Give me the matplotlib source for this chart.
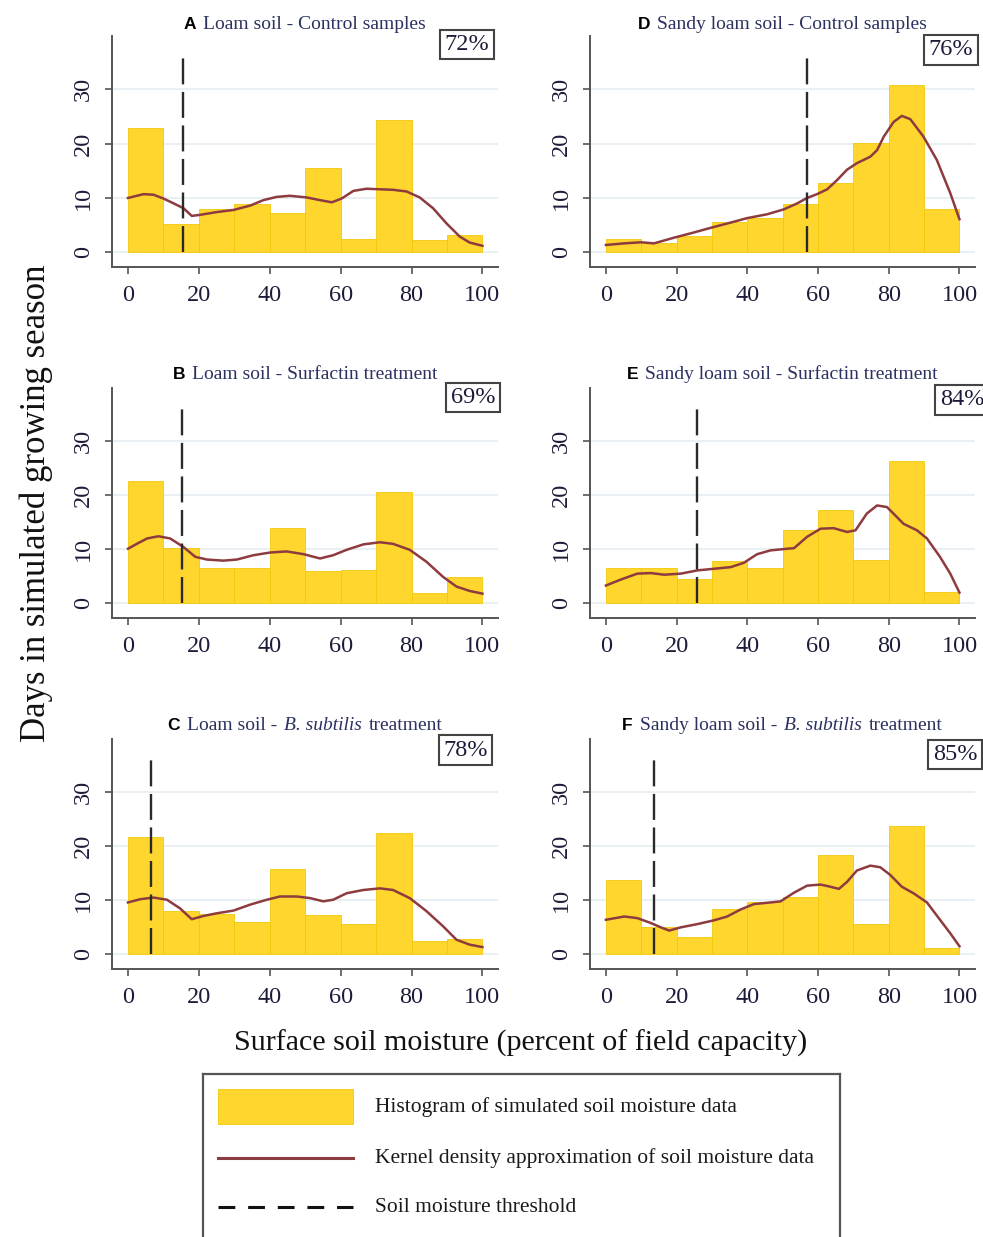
import numpy as np
import matplotlib.pyplot as plt
from matplotlib.patches import Rectangle

# histogram bins (percent of field capacity) and day counts per bin
bin_left = [0, 10, 20, 30, 40, 50, 60, 70, 80, 90]

hist_loam_ctrl = [22.9, 5.2, 7.9, 8.9, 7.2, 15.6, 2.5, 24.3, 2.2, 3.2]
hist_loam_surf = [22.6, 10.2, 6.6, 6.6, 14.0, 5.9, 6.1, 20.5, 1.9, 4.8]
hist_loam_bsub = [21.7, 8.0, 7.5, 5.9, 15.8, 7.2, 5.7, 22.4, 2.5, 2.8]
hist_sandy_ctrl = [2.5, 1.7, 3.0, 5.5, 6.4, 8.9, 12.8, 20.2, 30.7, 8.0]
hist_sandy_surf = [6.6, 6.6, 4.5, 7.8, 6.6, 13.6, 17.2, 8.1, 26.3, 2.1]
hist_sandy_bsub = [13.7, 5.0, 3.3, 8.3, 9.6, 10.6, 18.3, 5.7, 23.8, 1.2]

# kernel density curves (scaled to days)
kde_loam_ctrl_x = [0, 4.4, 7.2, 10, 12.9, 15.7, 18, 20.4, 25, 29.8, 34.5, 38.2, 42, 45.7, 50.4,
                   54.2, 57.5, 60.3, 63.6, 67.3, 71.1, 74.8, 78.6, 82.3, 86.1, 89.9, 93.6, 96.4, 100]
kde_loam_ctrl_y = [10.0, 10.7, 10.6, 9.9, 9.0, 8.1, 6.7, 6.9, 7.4, 7.8, 8.6, 9.6, 10.2, 10.4, 10.1,
                   9.6, 9.2, 9.9, 11.3, 11.7, 11.6, 11.5, 11.2, 10.1, 8.1, 5.3, 2.9, 1.8, 1.2]

kde_loam_surf_x = [0, 2.5, 5.4, 8.6, 11.9, 15.7, 19, 22.3, 26.9, 30.7, 35.4, 40.1, 44.8, 49.5,
                   54.2, 57.9, 61.7, 66.4, 71.1, 74.8, 79.5, 84.2, 88.9, 92.7, 96.4, 100]
kde_loam_surf_y = [10.1, 11.0, 12.0, 12.4, 12.0, 10.4, 8.6, 8.1, 7.9, 8.1, 8.9, 9.4, 9.6, 9.1,
                   8.3, 8.9, 9.9, 10.9, 11.3, 11.0, 9.9, 7.7, 4.9, 3.1, 2.3, 1.8]

kde_loam_bsub_x = [0, 3.5, 7.2, 11, 14.7, 18, 21.3, 25.1, 29.8, 34.5, 39.2, 42.9, 47.6, 51.4,
                   55.1, 57.9, 61.7, 66.4, 71.1, 74.8, 79.5, 84.2, 88.9, 92.7, 96.4, 100]
kde_loam_bsub_y = [9.6, 10.2, 10.5, 10.1, 8.5, 6.5, 7.1, 7.6, 8.1, 9.2, 10.1, 10.7, 10.7, 10.4,
                   9.8, 10.1, 11.3, 11.9, 12.2, 11.9, 10.4, 8.0, 5.2, 2.7, 1.8, 1.35]

kde_sandy_ctrl_x = [0, 5.2, 9.9, 13.6, 19.3, 24, 29.6, 34.3, 40, 45.6, 50.3, 54.1, 56.9, 59.7,
                    62.6, 65.4, 68.2, 71, 74.8, 76.7, 78.6, 81.4, 83.7, 86.1, 89.8, 93.6, 97.4, 100]
kde_sandy_ctrl_y = [1.35, 1.65, 1.85, 1.65, 2.7, 3.5, 4.5, 5.3, 6.3, 7.0, 7.9, 9.0, 10.0, 10.7,
                    11.6, 13.3, 15.2, 16.4, 17.6, 18.8, 21.3, 24.0, 25.1, 24.5, 21.3, 17.0, 10.9, 6.1]

kde_sandy_surf_x = [0, 4.2, 8.9, 12.7, 16.5, 21.2, 25.9, 30.6, 35.3, 39, 42.8, 46.6, 51.3, 53.2,
                    56.9, 60.7, 64.4, 68.2, 70.6, 73.8, 76.7, 79.5, 84.2, 88, 90.8, 94.5, 97.4, 100]
kde_sandy_surf_y = [3.3, 4.4, 5.5, 5.6, 5.3, 5.5, 6.1, 6.4, 6.7, 7.5, 9.1, 9.8, 10.1, 10.2,
                    12.3, 13.8, 13.9, 13.2, 13.5, 16.6, 18.1, 17.8, 14.7, 13.5, 12.0, 8.6, 5.5, 2.0]

kde_sandy_bsub_x = [0, 5.2, 8.9, 12.7, 15.5, 17.9, 21.2, 25.9, 30.6, 34.3, 38.1, 41.9, 46.6, 49.4,
                    53.2, 56.9, 60.7, 63.5, 65.9, 68.2, 71, 74.8, 77.6, 80.4, 83.7, 87, 90.8, 94.5, 97.4, 100]
kde_sandy_bsub_y = [6.4, 7.0, 6.7, 5.8, 5.0, 4.4, 5.0, 5.6, 6.3, 7.0, 8.3, 9.3, 9.6, 9.8,
                    11.4, 12.7, 12.9, 12.5, 12.1, 13.4, 15.5, 16.4, 16.1, 14.7, 12.5, 11.3, 9.6, 6.4, 3.9, 1.5]

# soil moisture thresholds and share of days above threshold
thresholds = [15.5, 15.3, 6.4, 56.9, 25.7, 13.5]
percents = ['72%', '69%', '78%', '76%', '84%', '85%']

letters = ['A', 'B', 'C', 'D', 'E', 'F']
soils = ['Loam soil -', 'Loam soil -', 'Loam soil -',
         'Sandy loam soil -', 'Sandy loam soil -', 'Sandy loam soil -']
treatments = ['Control samples', 'Surfactin treatment', 'B. subtilis treatment',
              'Control samples', 'Surfactin treatment', 'B. subtilis treatment']

hists = [hist_loam_ctrl, hist_loam_surf, hist_loam_bsub,
         hist_sandy_ctrl, hist_sandy_surf, hist_sandy_bsub]
kde_x = [kde_loam_ctrl_x, kde_loam_surf_x, kde_loam_bsub_x,
         kde_sandy_ctrl_x, kde_sandy_surf_x, kde_sandy_bsub_x]
kde_y = [kde_loam_ctrl_y, kde_loam_surf_y, kde_loam_bsub_y,
         kde_sandy_ctrl_y, kde_sandy_surf_y, kde_sandy_bsub_y]

GOLD = '#FFD62E'
KDE_COL = '#8E3B3F'
SPINE = '#555555'
NAVY = '#2B3160'
SERIF = 'Liberation Serif'

W, H = 983, 1237
fig = plt.figure(figsize=(W / 100, H / 100), dpi=100)

# panel boxes in pixels: left, right, top, bottom
cols = [(112, 498), (590, 975)]
rows = [(36, 267), (388, 618), (739, 969)]
title_base = [29, 379, 730]
box_pos = [(0.920, 0.963), (0.935, 0.959), (0.915, 0.952),
           (0.938, 0.940), (0.966, 0.948), (0.948, 0.933)]

renderer = fig.canvas.get_renderer()


def title_row(cx, y, parts, gap=6):
    texts = []
    for s, kw in parts:
        texts.append(fig.text(0, y, s, ha='left', va='baseline', **kw))
    widths = [t.get_window_extent(renderer).width for t in texts]
    x = cx - (sum(widths) + gap * (len(widths) - 1)) / 2
    for t, w in zip(texts, widths):
        t.set_x(x / W)
        x += w + gap


for i in range(6):
    c, r = divmod(i, 3)
    l, rt = cols[c]
    top, bot = rows[r]
    ax = fig.add_axes([l / W, 1 - bot / H, (rt - l) / W, (bot - top) / H])

    ax.bar(bin_left, hists[i], width=10, align='edge', color=GOLD,
           edgecolor='#F3C80A', linewidth=0.6, zorder=2)
    ax.plot(kde_x[i], kde_y[i], color=KDE_COL, lw=1.8, zorder=3)
    ax.vlines(thresholds[i], 0, 37, colors='#2a2a2a', lw=1.7,
              linestyles=(0, (11, 3.2)), zorder=4)

    ax.set_xlim(-4.5, 104.4)
    ax.set_ylim(-2.7, 39.8)
    ax.set_xticks([0, 20, 40, 60, 80, 100])
    ax.set_yticks([0, 10, 20, 30])
    ax.yaxis.grid(True, color='#E4EEF1', lw=1.2)
    ax.set_axisbelow(True)
    for s in ['top', 'right']:
        ax.spines[s].set_visible(False)
    for s in ['left', 'bottom']:
        ax.spines[s].set_color(SPINE)
        ax.spines[s].set_linewidth(1.4)
    ax.tick_params(direction='out', length=5, width=1.2, color=SPINE,
                   labelsize=17.5, labelcolor='#1c1c3a')
    ax.tick_params(axis='x', pad=8)
    ax.tick_params(axis='y', pad=8, labelrotation=90)
    for lab in ax.get_xticklabels() + ax.get_yticklabels():
        lab.set_family(SERIF)
    for lab in ax.get_yticklabels():
        lab.set_va('center')

    bx, by = box_pos[i]
    ax.text(bx, by, percents[i], transform=ax.transAxes, ha='center', va='center',
            fontsize=17.5, family=SERIF, color='#1c1c3a', clip_on=False, zorder=5,
            bbox=dict(boxstyle='square,pad=0.18', fc='white', ec='#444444', lw=1.5))

    # panel title: bold letter, then serif text with italic species name
    letter = (letters[i], dict(family='Liberation Sans', weight='bold', size=12.5, color='black'))
    rm = dict(family=SERIF, size=14, color=NAVY)
    it = dict(family=SERIF, size=14, color=NAVY, style='italic')
    if treatments[i].startswith('B. subtilis'):
        parts = [letter, (soils[i], rm), ('B. subtilis', it), ('treatment', rm)]
    else:
        parts = [letter, (soils[i] + ' ' + treatments[i], rm)]
    title_row((l + rt) / 2, 1 - title_base[r] / H, parts, gap=7)

fig.text(36 / W, 1 - 503 / H, 'Days in simulated growing season', rotation=90,
         ha='center', va='center', family=SERIF, fontsize=25, color='#111111')
fig.text(521 / W, 1 - 1043 / H, 'Surface soil moisture (percent of field capacity)',
         ha='center', va='center', family=SERIF, fontsize=21.6, color='#111111')

# legend box, open at the bottom edge
lx0, lx1, ly0 = 203, 840, 1074
lg = fig.add_axes([lx0 / W, 0, (lx1 - lx0) / W, (H - ly0) / H])
lg.set_xlim(0, lx1 - lx0)
lg.set_ylim(H - ly0, 0)
lg.set_xticks([])
lg.set_yticks([])
lg.spines['bottom'].set_visible(False)
for s in ['top', 'left', 'right']:
    lg.spines[s].set_color(SPINE)
    lg.spines[s].set_linewidth(1.6)
lg.add_patch(Rectangle((15, 15), 135, 35, facecolor=GOLD, edgecolor='#F3C80A', lw=0.6))
lg.plot([15, 150], [84, 84], color=KDE_COL, lw=2.2)
lg.plot([15, 150], [133, 133], color='#111111', lw=2.2, linestyle=(0, (5.5, 4.2)))
leg_labels = ['Histogram of simulated soil moisture data',
              'Kernel density approximation of soil moisture data',
              'Soil moisture threshold']
for yy, txt in zip([33, 84, 133], leg_labels):
    lg.text(172, yy, txt, ha='left', va='center', family=SERIF, fontsize=15.5, color='#1a1a1a')

fig.savefig('out.png', dpi=100)
